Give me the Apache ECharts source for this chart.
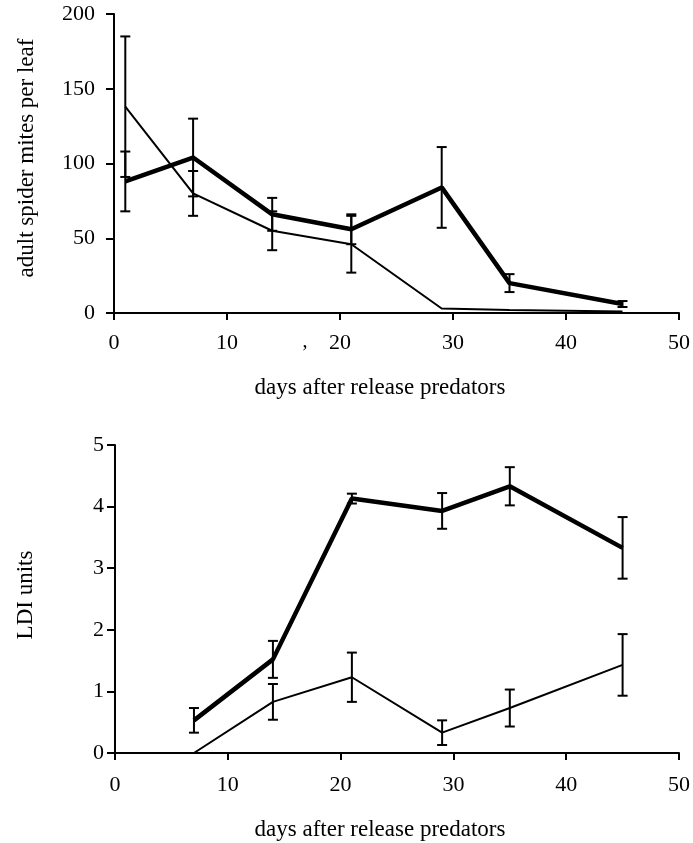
<!DOCTYPE html>
<html><head><meta charset="utf-8">
<script src="https://cdn.jsdelivr.net/npm/echarts@6/dist/echarts.min.js"></script>
<style>html,body{margin:0;padding:0;background:#fff}#c{width:693px;height:843px}</style>
</head><body><div id="c"></div>
<script>
// Top panel: adult spider mites per leaf
const topDays = [1, 7, 14, 21, 29, 35, 45];
const topThick = [88, 104, 66, 56, 84, 20, 6];
const topThickErr = [20, 26, 11, 10, 27, 6, 2];
const topThin = [138, 80, 55, 46, 3, 2, 1];
const topThinErr = [47, 15, 13, 19, 0, 0, 0];
// Bottom panel: LDI units
const botDays = [7, 14, 21, 29, 35, 45];
const botThick = [0.53, 1.52, 4.13, 3.93, 4.33, 3.33];
const botThickErr = [0.2, 0.3, 0.08, 0.29, 0.31, 0.5];
const botThin = [0, 0.83, 1.23, 0.33, 0.73, 1.43];
const botThinErr = [0, 0.29, 0.4, 0.2, 0.3, 0.5];
const xTicks = [0, 10, 20, 30, 40, 50];
const topYTicks = [0, 50, 100, 150, 200];
const botYTicks = [0, 1, 2, 3, 4, 5];
const xName = 'days after release predators';
const topYName = 'adult spider mites per leaf';
const botYName = 'LDI units';

const FONT = 'Liberation Serif';
const zip = (a, b) => a.map((v, i) => [v, b[i]]);
const zip3 = (a, b, c) => a.map((v, i) => [v, b[i], c[i]]);

function errRender(params, api) {
  const x = api.value(0), y = api.value(1), e = api.value(2);
  if (!e) return null;
  const hi = api.coord([x, y + e]);
  const lo = api.coord([x, y - e]);
  const w = 5;
  const st = { stroke: '#000', lineWidth: 2 };
  return { type: 'group', children: [
    { type: 'line', shape: { x1: hi[0], y1: hi[1], x2: lo[0], y2: lo[1] }, style: st },
    { type: 'line', shape: { x1: hi[0] - w, y1: hi[1], x2: hi[0] + w, y2: hi[1] }, style: st },
    { type: 'line', shape: { x1: lo[0] - w, y1: lo[1], x2: lo[0] + w, y2: lo[1] }, style: st }
  ]};
}

function xAxisDef(gi, margin) {
  return {
    type: 'value', gridIndex: gi, min: 0, max: 50, interval: 10,
    axisLine: { show: true, lineStyle: { color: '#000', width: 2 } },
    axisTick: { show: true, length: 7, lineStyle: { color: '#000', width: 2 } },
    axisLabel: { margin: margin, fontFamily: FONT, fontSize: 22, color: '#000',
      formatter: v => xTicks.includes(v) ? String(v) : '' },
    splitLine: { show: false }
  };
}
function yAxisDef(gi, max, interval, ticks, margin) {
  return {
    type: 'value', gridIndex: gi, min: 0, max: max, interval: interval,
    axisLine: { show: true, lineStyle: { color: '#000', width: 2 } },
    axisTick: { show: true, length: 8, lineStyle: { color: '#000', width: 2 } },
    axisLabel: { margin: margin, fontFamily: FONT, fontSize: 22, color: '#000',
      formatter: v => ticks.includes(v) ? String(v) : '' },
    splitLine: { show: false }
  };
}
function label(text, x, y, rot, size) {
  return { type: 'text', x: x, y: y, rotation: rot || 0,
    style: { text: text, fontFamily: FONT, fontSize: size || 23, fill: '#000',
      textAlign: 'center', textVerticalAlign: 'middle' } };
}

const chart = echarts.init(document.getElementById('c'));
chart.setOption({
  backgroundColor: '#fff',
  animation: false,
  grid: [
    { left: 114, top: 14, width: 565, height: 299 },
    { left: 115, top: 445, width: 565, height: 308 }
  ],
  xAxis: [xAxisDef(0, 19), xAxisDef(1, 21)],
  yAxis: [
    yAxisDef(0, 200, 50, topYTicks, 19),
    yAxisDef(1, 5, 1, botYTicks, 11)
  ],
  graphic: [
    label(xName, 380, 388),
    label(xName, 380, 830),
    label(topYName, 27, 158, Math.PI / 2),
    label(botYName, 26, 595, Math.PI / 2),
    label(',', 305, 342, 0, 20)
  ],
  series: [
    { type: 'line', xAxisIndex: 0, yAxisIndex: 0, data: zip(topDays, topThick), symbol: 'none',
      lineStyle: { color: '#000', width: 4.5 } },
    { type: 'line', xAxisIndex: 0, yAxisIndex: 0, data: zip(topDays, topThin), symbol: 'none',
      lineStyle: { color: '#000', width: 2 } },
    { type: 'custom', xAxisIndex: 0, yAxisIndex: 0, renderItem: errRender, clip: false,
      data: zip3(topDays, topThick, topThickErr) },
    { type: 'custom', xAxisIndex: 0, yAxisIndex: 0, renderItem: errRender, clip: false,
      data: zip3(topDays, topThin, topThinErr) },
    { type: 'line', xAxisIndex: 1, yAxisIndex: 1, data: zip(botDays, botThick), symbol: 'none',
      lineStyle: { color: '#000', width: 4.5 } },
    { type: 'line', xAxisIndex: 1, yAxisIndex: 1, data: zip(botDays, botThin), symbol: 'none',
      lineStyle: { color: '#000', width: 2 } },
    { type: 'custom', xAxisIndex: 1, yAxisIndex: 1, renderItem: errRender, clip: false,
      data: zip3(botDays, botThick, botThickErr) },
    { type: 'custom', xAxisIndex: 1, yAxisIndex: 1, renderItem: errRender, clip: false,
      data: zip3(botDays, botThin, botThinErr) }
  ]
});
</script></body></html>
